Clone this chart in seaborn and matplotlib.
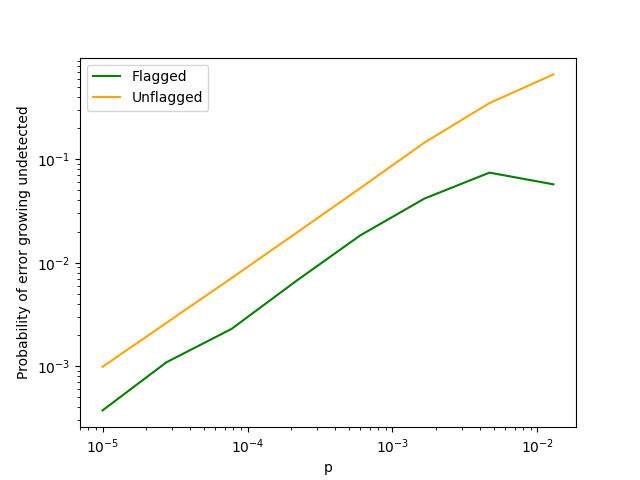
import numpy as np
import pandas as pd
import matplotlib
matplotlib.use("Agg")
import matplotlib.pyplot as plt
import seaborn as sns

p_values = [1.0e-5, 2.76e-5, 7.76e-5, 2.18e-4, 6.0e-4, 1.66e-3, 4.67e-3, 1.29e-2]
flagged = [3.73e-4, 1.09e-3, 2.29e-3, 6.7e-3, 1.84e-2, 4.17e-2, 7.44e-2, 5.73e-2]
unflagged = [0.985e-3, 2.62e-3, 7.1e-3, 1.95e-2, 5.27e-2, 0.145, 0.350, 0.663]
series_names = ["Flagged", "Unflagged"]
series_colors = ["green", "orange"]

df = pd.DataFrame({
    "p": p_values * 2,
    "prob": flagged + unflagged,
    "series": [series_names[0]] * len(p_values) + [series_names[1]] * len(p_values),
})

fig, ax = plt.subplots(figsize=(6.4, 4.8), dpi=100)
sns.lineplot(data=df, x="p", y="prob", hue="series",
             palette=dict(zip(series_names, series_colors)), ax=ax, linewidth=1.5)
ax.set_xscale("log")
ax.set_yscale("log")
ax.set_xlabel("p")
ax.set_ylabel("Probability of error growing undetected")
ax.legend(loc="upper left", title=None)
fig.savefig("out.png", dpi=100)
